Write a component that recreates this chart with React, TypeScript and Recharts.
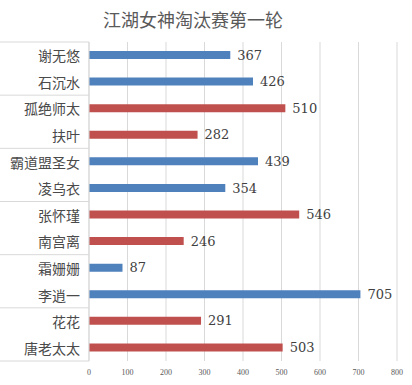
import React from "react";
import { BarChart, Bar, XAxis, YAxis, CartesianGrid, Cell, LabelList } from "recharts";

const names = ["谢无悠", "石沉水", "孤绝师太", "扶叶", "霸道盟圣女", "凌乌衣", "张怀瑾", "南宫离", "霜姗姗", "李逍一", "花花", "唐老太太"];
const values = [367, 426, 510, 282, 439, 354, 546, 246, 87, 705, 291, 503];
const groups = ["blue", "blue", "red", "red", "blue", "blue", "red", "red", "blue", "blue", "red", "red"];
const xTicks = [0, 100, 200, 300, 400, 500, 600, 700, 800];
const title = "江湖女神淘汰赛第一轮";

const COLORS: Record<string, string> = { blue: "#4F81BD", red: "#C0504D" };

const W = 412;
const H = 385;
const M = { top: 42, right: 15, bottom: 0, left: 0 };
const Y_W = 89;
const X_H = 24;
const plotH = H - M.top - M.bottom - X_H;
const band = plotH / names.length;

const data = names.map((n, i) => ({ name: n, value: values[i], group: groups[i] }));

const YTick = (props: any) => {
  const { y, payload, index } = props;
  const i = payload?.index ?? index;
  const half = band / 2;
  return (
    <g>
      {i % 2 === 0 && (
        <line x1={0} x2={Y_W} y1={y - half} y2={y - half} stroke="#d9d9d9" strokeWidth={1} />
      )}
      {i === names.length - 1 && (
        <line x1={0} x2={Y_W} y1={y + half} y2={y + half} stroke="#d9d9d9" strokeWidth={1} />
      )}
      <text
        x={Y_W - 9}
        y={y}
        textAnchor="end"
        dominantBaseline="central"
        fontSize={14}
        fill="#4a4a4a"
        fontFamily="'Noto Sans CJK SC', sans-serif"
      >
        {payload.value}
      </text>
    </g>
  );
};

const XTick = (props: any) => {
  const { x, y, payload } = props;
  return (
    <text
      x={x}
      y={y + 4}
      textAnchor="middle"
      dominantBaseline="central"
      fontSize={8}
      fill="#595959"
      fontFamily="'Liberation Serif', serif"
    >
      {payload.value}
    </text>
  );
};

export default function App() {
  return (
    <div style={{ position: "absolute", left: 0, top: 0, width: W, height: H, background: "#fff" }}>
      <div
        style={{
          position: "absolute",
          left: 0,
          top: 7,
          width: 386,
          textAlign: "center",
          fontSize: 18,
          lineHeight: "24px",
          color: "#595959",
          fontFamily: "'Noto Sans CJK SC', sans-serif",
        }}
      >
        {title}
      </div>
      <BarChart width={W} height={H} data={data} layout="vertical" margin={M}>
        <CartesianGrid horizontal={false} stroke="#d9d9d9" />
        <XAxis
          type="number"
          domain={[0, 800]}
          ticks={xTicks}
          axisLine={false}
          tickLine={false}
          tickSize={0}
          tickMargin={7}
          height={X_H}
          interval={0}
          tick={<XTick />}
        />
        <YAxis
          type="category"
          dataKey="name"
          width={Y_W}
          axisLine={{ stroke: "#d9d9d9" }}
          tickLine={false}
          interval={0}
          tick={<YTick />}
        />
        <Bar dataKey="value" barSize={8} isAnimationActive={false}>
          {data.map((d, i) => (
            <Cell key={i} fill={COLORS[d.group]} />
          ))}
          <LabelList
            dataKey="value"
            position="right"
            offset={7}
            fill="#404040"
            fontSize={13}
            fontFamily="'DejaVu Serif', serif"
          />
        </Bar>
      </BarChart>
    </div>
  );
}
